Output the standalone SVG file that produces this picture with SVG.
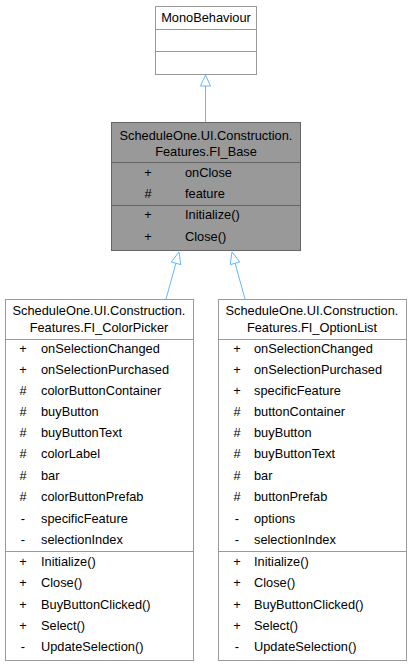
<svg xmlns="http://www.w3.org/2000/svg" width="413" height="667" viewBox="0 0 413 667">
<style>
text{font-family:"Liberation Sans",Arial,sans-serif;font-size:12.8px;fill:#000}
.c{text-anchor:middle}
.n{fill:#fff;stroke:#999999;stroke-width:1}
.h{fill:#999999;stroke:#666666;stroke-width:1}
.dl{stroke:#999999;stroke-width:1}
.dh{stroke:#666666;stroke-width:1}
.e{stroke:#63b8ff;stroke-width:1;fill:none}
.ah{fill:#fff;stroke:#63b8ff;stroke-width:1}
</style>
<rect width="413" height="667" fill="#fff"/>
<g id="connectors">
<line class="e" x1="205.5" y1="122" x2="205.5" y2="86"/>
<polygon class="ah" points="205.5,75 200.5,86 210.5,86"/>
<line class="e" x1="166" y1="299" x2="176" y2="263"/>
<polygon class="ah" points="179,252 171.2,262 180.8,264.6"/>
<line class="e" x1="245" y1="299" x2="235" y2="263"/>
<polygon class="ah" points="232,252 230.2,264.6 239.8,262"/>
</g>
<g id="MonoBehaviour">
<rect class="n" x="155.5" y="6.5" width="101" height="68"/>
<line class="dl" x1="155.5" y1="29.5" x2="256.5" y2="29.5"/>
<line class="dl" x1="155.5" y1="51.5" x2="256.5" y2="51.5"/>
<text class="c" x="206" y="22">MonoBehaviour</text>
</g>
<g id="FI_Base">
<rect class="h" x="111.5" y="122.5" width="189" height="128"/>
<line class="dh" x1="111.5" y1="162.5" x2="300.5" y2="162.5"/>
<line class="dh" x1="111.5" y1="205.5" x2="300.5" y2="205.5"/>
<text class="c" x="206" y="140">ScheduleOne.UI.Construction.</text>
<text class="c" x="206" y="156">Features.FI_Base</text>
<text class="c" x="148" y="177">+</text><text x="185" y="177">onClose</text>
<text class="c" x="148" y="198">#</text><text x="185" y="198">feature</text>
<text class="c" x="148" y="219">+</text><text x="185" y="219">Initialize()</text>
<text class="c" x="148" y="241">+</text><text x="185" y="241">Close()</text>
</g>
<g id="FI_ColorPicker">
<rect class="n" x="5.5" y="299.5" width="188" height="361"/>
<line class="dl" x1="5.5" y1="339.5" x2="193.5" y2="339.5"/>
<line class="dl" x1="5.5" y1="551.5" x2="193.5" y2="551.5"/>
<text class="c" x="99" y="315">ScheduleOne.UI.Construction.</text>
<text class="c" x="99" y="332">Features.FI_ColorPicker</text>
<text class="c" x="23" y="353">+</text><text x="41" y="353">onSelectionChanged</text>
<text class="c" x="23" y="374">+</text><text x="41" y="374">onSelectionPurchased</text>
<text class="c" x="23" y="395">#</text><text x="41" y="395">colorButtonContainer</text>
<text class="c" x="23" y="416">#</text><text x="41" y="416">buyButton</text>
<text class="c" x="23" y="437">#</text><text x="41" y="437">buyButtonText</text>
<text class="c" x="23" y="458">#</text><text x="41" y="458">colorLabel</text>
<text class="c" x="23" y="480">#</text><text x="41" y="480">bar</text>
<text class="c" x="23" y="501">#</text><text x="41" y="501">colorButtonPrefab</text>
<text class="c" x="23" y="523">-</text><text x="41" y="523">specificFeature</text>
<text class="c" x="23" y="544">-</text><text x="41" y="544">selectionIndex</text>
<text class="c" x="23" y="566">+</text><text x="41" y="566">Initialize()</text>
<text class="c" x="23" y="587">+</text><text x="41" y="587">Close()</text>
<text class="c" x="23" y="609">+</text><text x="41" y="609">BuyButtonClicked()</text>
<text class="c" x="23" y="630">+</text><text x="41" y="630">Select()</text>
<text class="c" x="23" y="651">-</text><text x="41" y="651">UpdateSelection()</text>
</g>
<g id="FI_OptionList">
<rect class="n" x="218.5" y="299.5" width="188" height="361"/>
<line class="dl" x1="218.5" y1="339.5" x2="406.5" y2="339.5"/>
<line class="dl" x1="218.5" y1="551.5" x2="406.5" y2="551.5"/>
<text class="c" x="312" y="315">ScheduleOne.UI.Construction.</text>
<text class="c" x="312" y="332">Features.FI_OptionList</text>
<text class="c" x="237" y="353">+</text><text x="254" y="353">onSelectionChanged</text>
<text class="c" x="237" y="374">+</text><text x="254" y="374">onSelectionPurchased</text>
<text class="c" x="237" y="395">+</text><text x="254" y="395">specificFeature</text>
<text class="c" x="237" y="416">#</text><text x="254" y="416">buttonContainer</text>
<text class="c" x="237" y="437">#</text><text x="254" y="437">buyButton</text>
<text class="c" x="237" y="458">#</text><text x="254" y="458">buyButtonText</text>
<text class="c" x="237" y="480">#</text><text x="254" y="480">bar</text>
<text class="c" x="237" y="501">#</text><text x="254" y="501">buttonPrefab</text>
<text class="c" x="237" y="523">-</text><text x="254" y="523">options</text>
<text class="c" x="237" y="544">-</text><text x="254" y="544">selectionIndex</text>
<text class="c" x="237" y="566">+</text><text x="254" y="566">Initialize()</text>
<text class="c" x="237" y="587">+</text><text x="254" y="587">Close()</text>
<text class="c" x="237" y="609">+</text><text x="254" y="609">BuyButtonClicked()</text>
<text class="c" x="237" y="630">+</text><text x="254" y="630">Select()</text>
<text class="c" x="237" y="651">-</text><text x="254" y="651">UpdateSelection()</text>
</g>
</svg>
